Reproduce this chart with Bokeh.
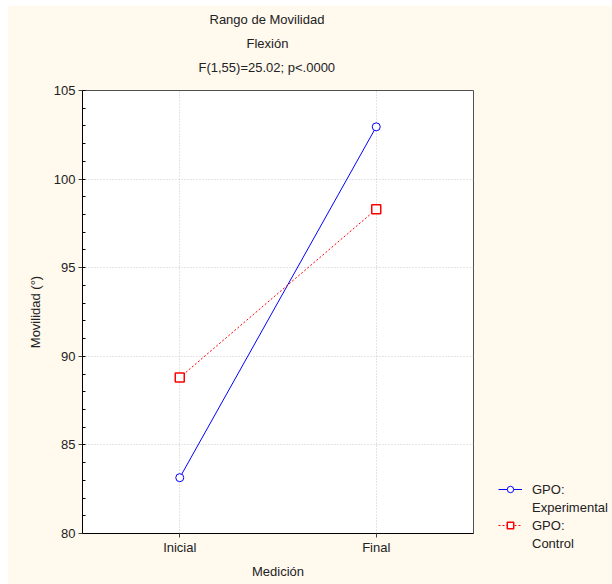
from bokeh.plotting import figure
from bokeh.models import (Legend, LegendItem, FixedTicker,
                          Range1d, ColumnDataSource, Title)
from bokeh.embed import file_html
from bokeh.resources import INLINE

# ---- data ----
categories = ["Inicial", "Final"]
cat_pos = [0, 1]
experimental = [83.15, 102.95]
control = [88.8, 98.3]
y_ticks = [80, 85, 90, 95, 100, 105]
y_minor = list(range(80, 106))
title_lines = ["Rango de Movilidad", "Flexión", "F(1,55)=25.02; p<.0000"]
legend_labels = ["GPO:", "Experimental", "GPO:", "Control"]

FONT = "Liberation Sans"
BG = "#FFF9EE"
TXT = "#222222"

p = figure(frame_width=391, frame_height=443, output_backend="svg",
           toolbar_location=None,
           x_range=Range1d(-0.495, 1.495), y_range=Range1d(80, 105),
           min_border_left=75, min_border_right=0, min_border_top=85,
           min_border_bottom=51, border_fill_color=BG, background_fill_color="white",
           outline_line_color="#505050")
p.margin = (5, 0, 0, 7)

# titles (first added sits nearest the frame)
p.add_layout(Title(text=" ", text_font_size="9px", standoff=0), "above")
title_offsets = [127, 164, 116]
for txt, off in zip(reversed(title_lines), reversed(title_offsets)):
    p.add_layout(Title(text=txt, align="left", offset=off, standoff=7,
                       text_font=FONT, text_font_size="13px",
                       text_font_style="normal", text_color=TXT), "above")

# axes
p.xaxis.ticker = FixedTicker(ticks=cat_pos)
p.xaxis.major_label_overrides = {i: c for i, c in zip(cat_pos, categories)}
p.yaxis.ticker = FixedTicker(ticks=y_ticks, minor_ticks=y_minor)
for ax in (p.xaxis[0], p.yaxis[0]):
    ax.axis_line_color = "black"
    ax.major_tick_line_color = "#444444"
    ax.minor_tick_line_color = "black"
    ax.major_tick_in = 0
    ax.major_tick_out = 4
    ax.minor_tick_in = 3
    ax.minor_tick_out = 0
    ax.major_label_text_font = FONT
    ax.major_label_text_font_size = "13px"
    ax.major_label_text_color = TXT
    ax.axis_label_text_font = FONT
    ax.axis_label_text_font_size = "13px"
    ax.axis_label_text_font_style = "normal"
    ax.axis_label_text_color = TXT
p.xaxis.minor_tick_line_color = None
p.xaxis.major_label_standoff = 2
p.xaxis.axis_label_standoff = 6
p.yaxis.major_label_standoff = 3
p.yaxis.axis_label_standoff = 8
p.xaxis.axis_label = "Medición"
p.yaxis.axis_label = "Movilidad (°)"

# grid
p.xgrid.grid_line_color = "#c8c8c8"
p.xgrid.grid_line_dash = "1 2"
p.ygrid.grid_line_color = "#c8c8c8"
p.ygrid.grid_line_dash = "1 2"
p.ygrid.ticker = FixedTicker(ticks=y_ticks)

src_e = ColumnDataSource(dict(x=cat_pos, y=experimental))
src_c = ColumnDataSource(dict(x=cat_pos, y=control))

le = p.line("x", "y", source=src_e, line_color="#0000FF", line_width=1)
se = p.scatter("x", "y", source=src_e, marker="circle", size=8,
               line_color="#0000FF", fill_color="white", line_width=1)
lc = p.line("x", "y", source=src_c, line_color="#FF0000", line_width=1,
            line_dash="2 2")
sc = p.scatter("x", "y", source=src_c, marker="square", size=9,
               line_color="#FF0000", fill_color="white", line_width=1.5)
dummy = p.line(x=[], y=[], line_alpha=0)

legend = Legend(items=[LegendItem(label=legend_labels[0], renderers=[le, se]),
                       LegendItem(label=legend_labels[1], renderers=[dummy]),
                       LegendItem(label=legend_labels[2], renderers=[lc, sc]),
                       LegendItem(label=legend_labels[3], renderers=[dummy])],
                location=(25, -18), padding=0, margin=0, spacing=2,
                glyph_width=24, glyph_height=16, label_height=16,
                label_standoff=10, background_fill_alpha=0,
                border_line_alpha=0, label_text_font=FONT,
                label_text_font_size="13px", label_text_color=TXT)
p.add_layout(legend, "right")

open("out.html", "w").write(file_html(p, INLINE))
